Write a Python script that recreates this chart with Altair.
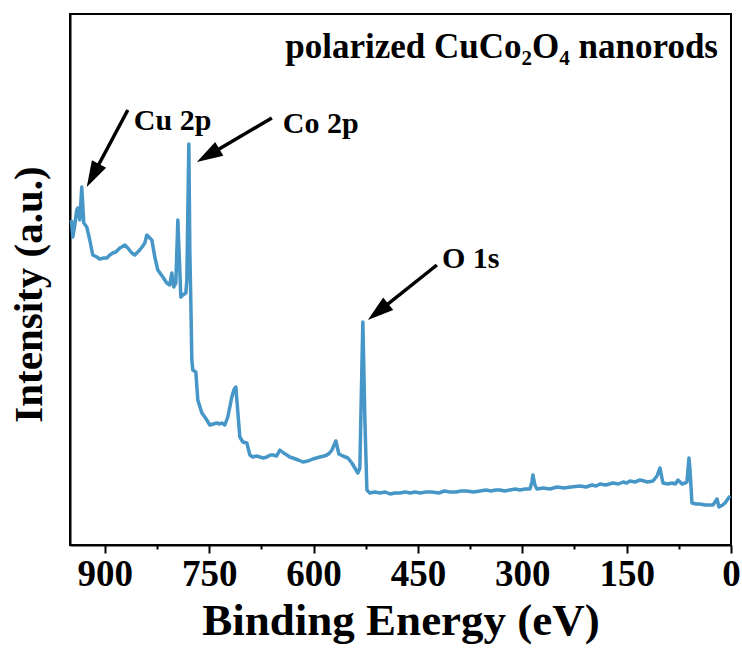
import math
import altair as alt
import pandas as pd

# XPS survey spectrum of polarized CuCo2O4 nanorods
binding_energy = [
    948, 946, 943, 940.3, 938.8, 935.9, 933.1, 930.2, 925.9, 921.6,
    917.3, 911.5, 907.2, 901.4, 897.1, 892.8, 888.5, 884.2, 881.3, 878.4,
    875.6, 871.2, 866.9, 861.2, 856.9, 852.6, 849.7, 845.4, 842.5, 839.6,
    835.3, 832.4, 828.1, 823.8, 816.6, 810.9, 806.6, 803.7, 800.8, 797.9,
    795.0, 790.7, 787.9, 783.5, 782.1, 779.2, 777.8, 776.4, 774.9, 773.5,
    769.2, 766.3, 760.5, 756.2, 749.0,
    744, 739, 735, 731.8, 727.5, 723.2, 717.4, 714.5, 711.7, 710.2,
    705.9, 701.6, 695.8, 691.5, 687.2, 682, 677.2, 672, 667.1, 662,
    658.5, 653, 648.4, 643, 638.3, 634, 629.7, 622, 615.3, 608,
    601, 596, 590.9, 585, 580.8, 577, 573.6, 567.9, 563.6, 557.8,
    550.6, 544.9, 540.6, 536.3, 533.4, 530.5, 529.1, 526.2, 523.3,
    519, 512, 504.6, 497, 490, 483, 475.9, 468, 461, 454,
    447.1, 438, 430, 420, 412, 404, 395, 388, 380, 370,
    360.9, 352, 345, 338, 332.1, 325, 318, 310, 303.4, 296,
    289, 286.1, 284.7, 281.8, 278.9, 270, 260.2, 250, 240, 230,
    217.1, 208, 200, 194, 188.3, 180, 169.6, 162, 155, 150,
    145.2, 138, 130.8, 125, 120, 112.1,
    106.4, 102.1, 97.8, 91, 84.8, 80, 76.2, 70.4, 66, 63.3,
    60.4, 58.9, 56.1, 50, 44.6, 37, 30.2, 25.9, 20.1, 17.3,
    12, 8.6, 1.4,
]
intensity = [
    325, 308, 320, 335, 337, 325, 358, 322, 318, 305,
    290, 288, 286, 287, 287, 290, 292, 293, 295, 297,
    298, 300, 297, 292, 290, 293, 295, 299, 302, 310,
    307, 305, 288, 275, 268, 262, 260, 272, 258, 262,
    325, 248, 250, 252, 265, 401, 295, 245, 185, 175,
    173, 145, 132, 128, 120,
    121, 122, 121, 122, 120, 128, 148, 155, 158, 145,
    108, 103, 102, 90, 88, 89, 88, 87, 88, 90,
    90, 89, 95, 92, 90, 88, 87, 85, 83, 84,
    86, 87, 88, 89, 90, 92, 95, 104, 91, 89,
    87, 82, 77, 72, 77, 178, 223, 125, 55,
    52, 53, 52, 53, 51, 52, 52, 53, 52, 53,
    52, 53, 53, 52, 54, 53, 53, 54, 54, 53,
    54, 55, 54, 55, 55, 54, 55, 56, 55, 56,
    56, 63, 70, 60, 56, 57, 56, 58, 57, 58,
    59, 58, 60, 59, 61, 60, 62, 61, 63, 62,
    64, 63, 65, 64, 63, 64,
    69, 77, 62, 61, 62, 61, 65, 61, 62, 63,
    87, 75, 42, 41, 41, 40, 40, 40, 46, 38,
    40, 42, 49,
]
assert len(binding_energy) == len(intensity)

# peak labels: text, label anchor (eV, intensity), arrow tail and tip (eV, intensity)
peak_names = ["Cu 2p", "Co 2p", "O 1s"]
label_ev = [858.3, 644.1, 415.5]
label_int = [415, 412, 277]
tail_ev = [866.9, 659.9, 422.7]
tail_int = [435, 427, 280]
tip_ev = [925.9, 767.7, 521.9]
tip_int = [358, 383, 225]

sample_title = "polarized CuCo\u2082O\u2084 nanorods"

W, H = 661, 531
X_MAX, Y_MAX = 950, 531
FONT = "Liberation Serif"
LINE_COLOR = "#4696c8"
HEAD_LEN = 26


def to_px(ev, val):
    return W * (X_MAX - ev) / X_MAX, H * (1 - val / Y_MAX)


def to_data(px, py):
    return X_MAX - px * X_MAX / W, Y_MAX * (1 - py / H)


arrow_rows = []
for i in range(len(peak_names)):
    tx, ty = to_px(tail_ev[i], tail_int[i])
    hx, hy = to_px(tip_ev[i], tip_int[i])
    dx, dy = hx - tx, hy - ty
    d = math.hypot(dx, dy)
    cx, cy = hx - dx / d * HEAD_LEN / 2, hy - dy / d * HEAD_LEN / 2
    c_ev, c_int = to_data(cx, cy)
    ang = math.degrees(math.atan2(dx, -dy)) % 360
    arrow_rows.append({"ev": tail_ev[i], "val": tail_int[i], "ev2": c_ev, "val2": c_int,
                       "hev": c_ev, "hval": c_int, "ang": ang})

spec = pd.DataFrame({"ev": binding_energy, "val": intensity})
arrows = pd.DataFrame(arrow_rows)
labels = pd.DataFrame({"name": peak_names, "ev": label_ev, "val": label_int})
title_df = pd.DataFrame({"name": [sample_title], "ev": [18.7], "val": [487]})

x_scale = alt.Scale(domain=[0, X_MAX], reverse=True, nice=False, zero=False)
y_scale = alt.Scale(domain=[0, Y_MAX], nice=False, zero=False)

x_axis = alt.Axis(
    title="Binding Energy (eV)",
    values=list(range(0, 901, 75)),
    labelExpr="datum.value % 150 === 0 ? datum.label : ''",
    tickSize={"condition": {"test": "datum.value % 150 === 0", "value": 8}, "value": 4},
    tickWidth=2, tickColor="black", domainColor="black", domainWidth=2,
    labelFont=FONT, labelFontWeight="bold", labelFontSize=37, labelColor="black",
    labelPadding=3, labelOverlap=False, labelFlush=False,
    titleFont=FONT, titleFontWeight="bold", titleFontSize=45, titleColor="black",
    titlePadding=6, grid=False,
)
y_axis = alt.Axis(
    title="Intensity (a.u.)", labels=False, ticks=False, grid=False,
    domainColor="black", domainWidth=2,
    titleFont=FONT, titleFontWeight="bold", titleFontSize=41, titleColor="black",
    titlePadding=20, titleY=280,
)

line = alt.Chart(spec).mark_line(color=LINE_COLOR, strokeWidth=3.5, strokeJoin="round").encode(
    x=alt.X("ev:Q", scale=x_scale, axis=x_axis),
    y=alt.Y("val:Q", scale=y_scale, axis=y_axis),
    order="ev:Q",
)

shafts = alt.Chart(arrows).mark_rule(color="black", strokeWidth=3.5).encode(
    x=alt.X("ev:Q", scale=x_scale), y=alt.Y("val:Q", scale=y_scale),
    x2="ev2:Q", y2="val2:Q",
)

heads = alt.Chart(arrows).mark_point(
    shape="M0,-1L0.62,1L-0.62,1Z", filled=True, color="black", opacity=1,
    size=HEAD_LEN * HEAD_LEN, strokeWidth=0,
).encode(
    x=alt.X("hev:Q", scale=x_scale), y=alt.Y("hval:Q", scale=y_scale),
    angle=alt.Angle("ang:Q", scale=None),
)

peak_text = alt.Chart(labels).mark_text(
    font=FONT, fontWeight="bold", fontSize=30, color="black", align="left", baseline="alphabetic",
).encode(x=alt.X("ev:Q", scale=x_scale), y=alt.Y("val:Q", scale=y_scale), text="name:N")

title_text = alt.Chart(title_df).mark_text(
    font=FONT, fontWeight="bold", fontSize=35, color="black", align="right", baseline="alphabetic",
).encode(x=alt.X("ev:Q", scale=x_scale), y=alt.Y("val:Q", scale=y_scale), text="name:N")

chart = alt.layer(line, shafts, heads, peak_text, title_text).properties(
    width=W, height=H,
    autosize=alt.AutoSizeParams(type="none"),
    padding={"left": 70, "top": 14, "right": 11, "bottom": 110},
    background="white",
).configure_view(stroke="black", strokeWidth=2)

chart.save("out.html", embed_options={"renderer": "svg", "actions": False})
